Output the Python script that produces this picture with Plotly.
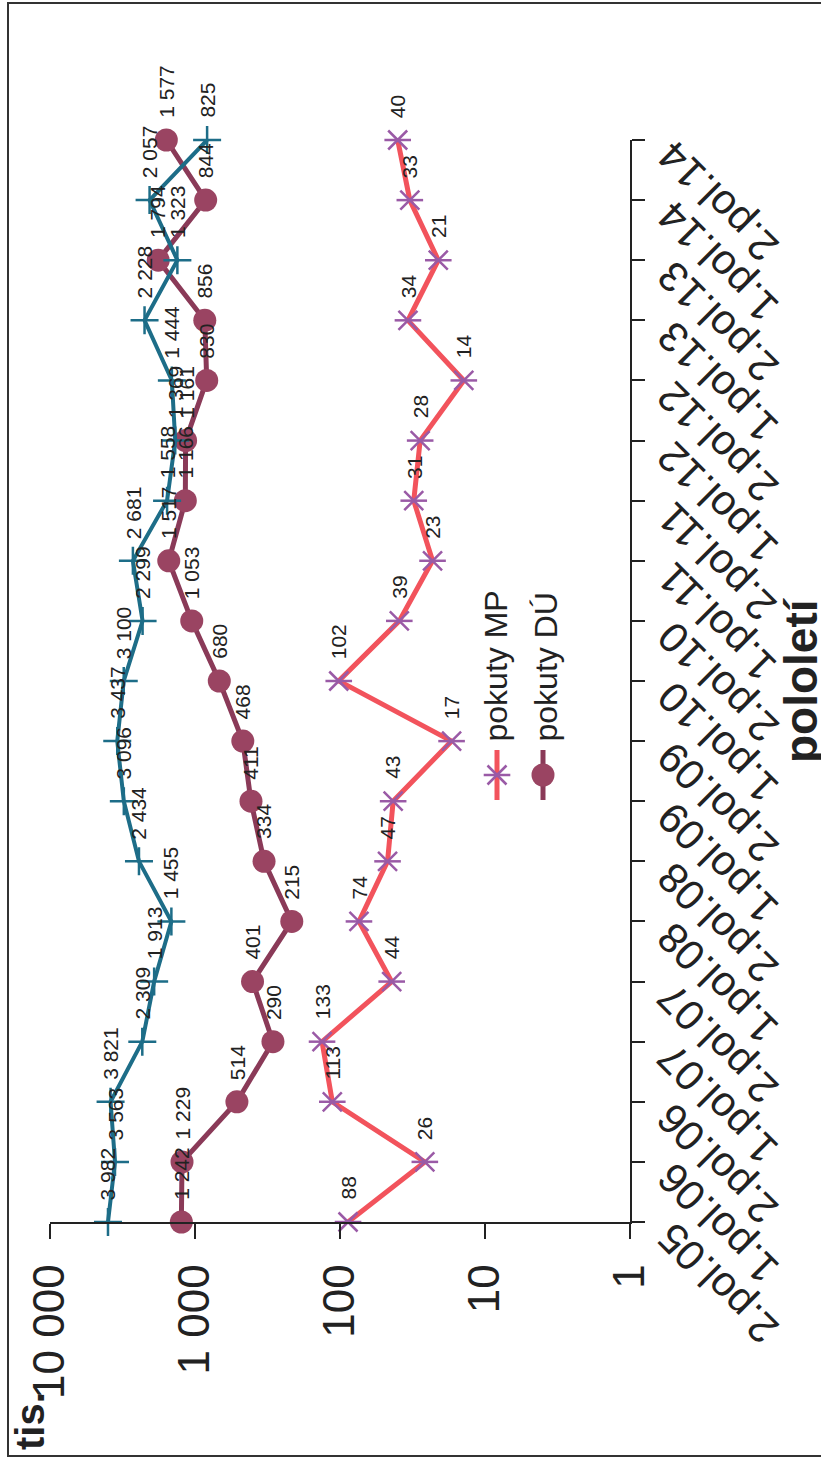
import numpy as np
import plotly.graph_objects as go

# ---------------- data ----------------
periods = ["2.pol.05", "1.pol.06", "2.pol.06", "1.pol.07", "2.pol.07", "1.pol.08",
           "2.pol.08", "1.pol.09", "2.pol.09", "1.pol.10", "2.pol.10", "1.pol.11",
           "2.pol.11", "1.pol.12", "2.pol.12", "1.pol.13", "2.pol.13", "1.pol.14",
           "2.pol.14"]
pokuty_celkem = [3982, 3563, 3821, 2309, 1913, 1455, 2434, 3096, 3437, 3100,
                 2299, 2681, 1558, 1369, 1444, 2228, 1323, 2057, 825]
pokuty_du = [1242, 1229, 514, 290, 401, 215, 334, 411, 468, 680,
             1053, 1517, 1166, 1161, 830, 856, 1794, 844, 1577]
pokuty_mp = [88, 26, 113, 133, 44, 74, 47, 43, 17, 102,
             39, 23, 31, 28, 14, 34, 21, 33, 40]
value_ticks = [1, 10, 100, 1000, 10000]
value_tick_text = ["1", "10", "100", "1 000", "10 000"]
legend_names = ["pokuty MP", "pokuty DÚ"]
x_title = "pololetí"
y_title = "tis."

# ---------------- layout geometry ----------------
W, H = 821, 1459
L, R, T, B = 50, 630, 140, 1222   # plot area in pixels
FONT = "Liberation Sans, Arial, sans-serif"

def px_x(p):
    return (p - L) / (R - L)

def px_y(p):
    return (B - p) / (B - T)

C_BLUE = "#1d6d88"
C_DU_LINE = "#8a3a58"
C_DU_MARK = "#9a4462"
C_MP_LINE = "#f2535c"
C_MP_MARK = "#9a5aa6"

def fmt(v):
    return f"{v:,}".replace(",", " ")

fig = go.Figure()

fig.add_trace(go.Scatter(
    x=pokuty_du, y=periods, mode="lines+markers", name=legend_names[1],
    line=dict(color=C_DU_LINE, width=5),
    marker=dict(symbol="circle", size=23, color=C_DU_MARK),
    cliponaxis=False, showlegend=False))
fig.add_trace(go.Scatter(
    x=pokuty_celkem, y=periods, mode="lines+markers", name="pokuty celkem",
    line=dict(color=C_BLUE, width=4),
    marker=dict(symbol="cross-thin-open", size=20, color=C_BLUE,
                line=dict(color=C_BLUE, width=2.5)),
    cliponaxis=False, showlegend=False))
fig.add_trace(go.Scatter(
    x=pokuty_mp, y=periods, mode="lines+markers", name=legend_names[0],
    line=dict(color=C_MP_LINE, width=5),
    marker=dict(symbol="x-thin-open", size=19, color=C_MP_MARK,
                line=dict(color=C_MP_MARK, width=2.5)),
    cliponaxis=False, showlegend=False))
fig.add_trace(go.Scatter(
    x=pokuty_mp, y=periods, mode="markers", name=legend_names[0],
    marker=dict(symbol="line-ew-open", size=19, color=C_MP_MARK,
                line=dict(color=C_MP_MARK, width=2.5)),
    cliponaxis=False, showlegend=False))

annotations = []

# data labels (rotated, placed "above" the points in the rotated view)
for series in (pokuty_celkem, pokuty_du, pokuty_mp):
    for p, v in zip(periods, series):
        annotations.append(dict(
            x=float(np.log10(v)), y=p, xref="x", yref="y", text=fmt(v),
            textangle=-90, showarrow=False, xanchor="center", yanchor="bottom",
            yshift=20, font=dict(family=FONT, size=21, color="#222")))

# category tick labels, rotated
for p in periods:
    annotations.append(dict(
        x=1, y=p, xref="paper", yref="y", text=p, textangle=-135,
        showarrow=False, xanchor="left", yanchor="top", xshift=16, yshift=10,
        font=dict(family=FONT, size=42, color="#222")))

# axis titles
annotations.append(dict(
    x=px_x(801), y=px_y(680), xref="paper", yref="paper", text=f"<b>{x_title}</b>",
    textangle=-90, showarrow=False, xanchor="center", yanchor="middle",
    font=dict(family=FONT, size=46, color="#222")))
annotations.append(dict(
    x=px_x(30), y=px_y(1452), xref="paper", yref="paper", text=f"<b>{y_title}</b>",
    textangle=-90, showarrow=False, xanchor="center", yanchor="bottom",
    font=dict(family=FONT, size=40, color="#222")))

# legend texts
for name, xc in zip(legend_names, (495, 545)):
    annotations.append(dict(
        x=px_x(xc), y=px_y(744), xref="paper", yref="paper", text=name,
        textangle=-90, showarrow=False, xanchor="center", yanchor="bottom",
        font=dict(family=FONT, size=32, color="#222")))

# legend symbols on a hidden pixel-scaled axis pair
fig.add_trace(go.Scatter(
    x=[497, 497], y=[750, 800], xaxis="x2", yaxis="y2", mode="lines",
    line=dict(color=C_MP_LINE, width=5), showlegend=False, hoverinfo="skip"))
fig.add_trace(go.Scatter(
    x=[497], y=[775], xaxis="x2", yaxis="y2", mode="markers",
    marker=dict(symbol="x-thin-open", size=19, color=C_MP_MARK,
                line=dict(color=C_MP_MARK, width=2.5)),
    showlegend=False, hoverinfo="skip", cliponaxis=False))
fig.add_trace(go.Scatter(
    x=[497], y=[775], xaxis="x2", yaxis="y2", mode="markers",
    marker=dict(symbol="line-ew-open", size=19, color=C_MP_MARK,
                line=dict(color=C_MP_MARK, width=2.5)),
    showlegend=False, hoverinfo="skip", cliponaxis=False))
fig.add_trace(go.Scatter(
    x=[543, 543], y=[750, 800], xaxis="x2", yaxis="y2", mode="lines",
    line=dict(color=C_DU_LINE, width=5), showlegend=False, hoverinfo="skip"))
fig.add_trace(go.Scatter(
    x=[543], y=[775], xaxis="x2", yaxis="y2", mode="markers",
    marker=dict(symbol="circle", size=23, color=C_DU_MARK),
    showlegend=False, hoverinfo="skip", cliponaxis=False))

shapes = [dict(type="rect", xref="paper", yref="paper",
               x0=px_x(8), x1=px_x(860), y0=px_y(1456), y1=px_y(3),
               line=dict(color="#333", width=2), fillcolor="rgba(0,0,0,0)")]

fig.update_layout(
    width=W, height=H,
    margin=dict(l=L, r=W - R, t=T, b=H - B, pad=0),
    paper_bgcolor="white", plot_bgcolor="white",
    showlegend=False,
    font=dict(family=FONT, color="#222"),
    xaxis=dict(type="log", range=[4, 0], tickvals=value_ticks, ticktext=value_tick_text,
               tickangle=-90, ticks="outside", ticklen=15, tickwidth=1.5, tickcolor="#222",
               showline=True, linecolor="#222", linewidth=1.5, showgrid=False,
               zeroline=False, tickfont=dict(family=FONT, size=44, color="#222"),
               ticklabelstandoff=8),
    yaxis=dict(type="category", categoryarray=periods, categoryorder="array",
               range=[0, len(periods) - 1], side="right", showline=True,
               linecolor="#222", linewidth=1.5, ticks="outside", ticklen=13,
               tickwidth=1.5, tickcolor="#222", showticklabels=False,
               showgrid=False, zeroline=False),
    xaxis2=dict(range=[L, R], overlaying="x", visible=False, fixedrange=True),
    yaxis2=dict(range=[B, T], overlaying="y", visible=False, fixedrange=True),
    annotations=annotations,
    shapes=shapes,
)

fig.write_html(
    "out.html",
    config={"displayModeBar": False},
    post_script="document.body.style.margin='0';document.body.style.overflow='hidden';",
)
